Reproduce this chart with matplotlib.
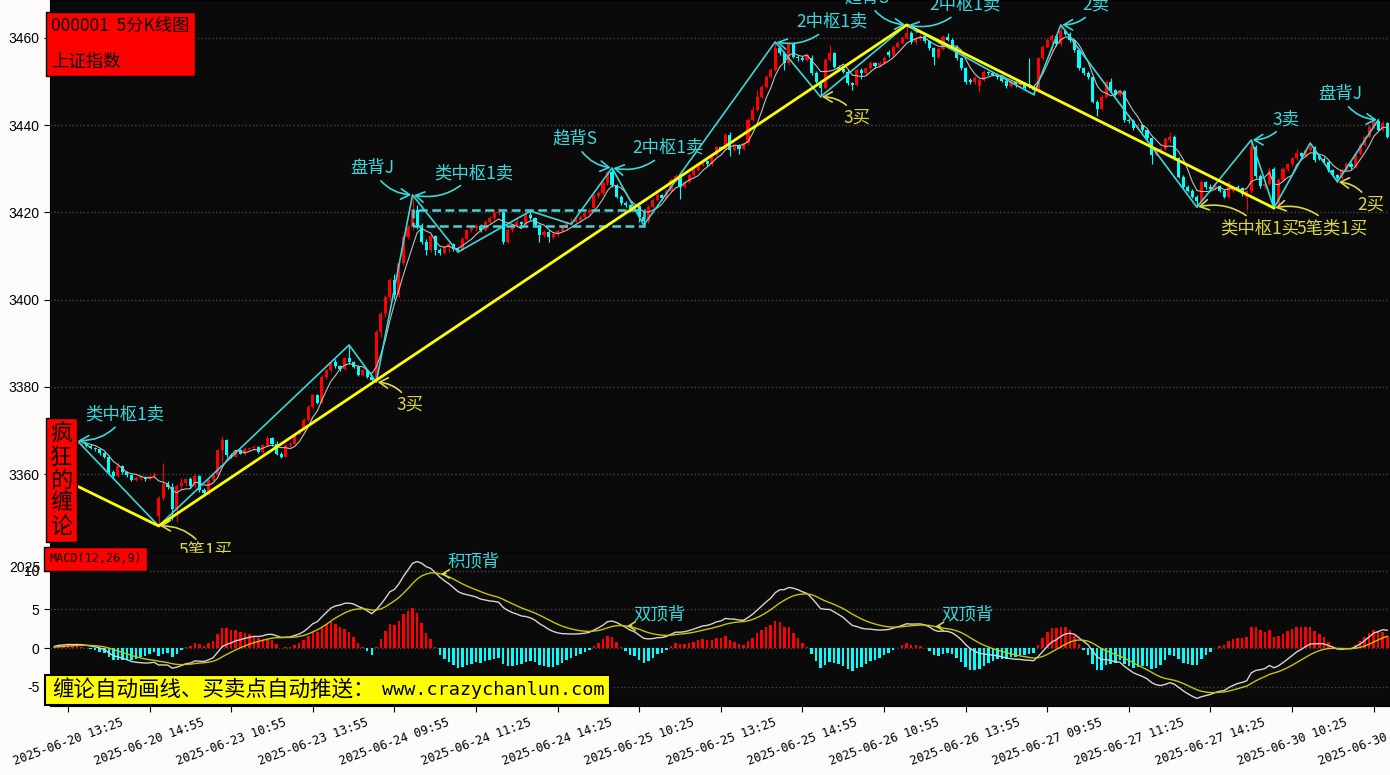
import numpy as np
import pandas as pd
import matplotlib
matplotlib.use('Agg')
import matplotlib.pyplot as plt
from matplotlib.patches import Rectangle

plt.rcParams['font.family'] = ['Noto Sans CJK SC', 'DejaVu Sans']
plt.rcParams['axes.unicode_minus'] = False

# ---- 5 min bars, 000001, from 2025-06-20 13:10 ----
opens = [
    3367.0, 3367.5, 3368.2, 3367.4, 3367.9, 3367.0, 3366.6, 3367.0, 3366.4, 3366.0,
    3365.7, 3364.8, 3364.0, 3360.5, 3359.6, 3361.8, 3360.4, 3359.8, 3358.6, 3359.2,
    3359.4, 3358.9, 3359.5, 3350.3, 3354.5, 3357.8, 3357.0, 3352.0, 3357.2, 3358.0,
    3358.8, 3357.2, 3359.5, 3356.3, 3355.6, 3358.6, 3359.8, 3365.5, 3367.8, 3364.4,
    3364.0, 3365.5, 3364.7, 3365.8, 3365.9, 3366.3, 3365.1, 3366.6, 3368.2, 3366.8,
    3364.7, 3364.0, 3366.6, 3367.0, 3369.3, 3370.1, 3372.4, 3375.4, 3378.1, 3376.4,
    3382.3, 3383.8, 3385.8, 3384.7, 3384.0, 3386.5, 3385.6, 3384.6, 3382.7, 3383.8,
    3382.3, 3381.8, 3392.5, 3396.8, 3400.6, 3404.5, 3401.0, 3408.3, 3414.4, 3416.7,
    3420.5, 3416.7, 3413.3, 3411.4, 3414.5, 3411.4, 3410.8, 3412.0, 3412.8, 3411.6,
    3411.4, 3414.0, 3415.9, 3416.4, 3416.8, 3416.0, 3417.9, 3418.6, 3419.8, 3420.1,
    3413.3, 3416.0, 3417.0, 3417.8, 3417.4, 3419.4, 3418.6, 3417.1, 3414.8, 3415.6,
    3414.4, 3415.0, 3415.8, 3416.6, 3417.6, 3417.8, 3418.2, 3419.0, 3419.8, 3421.0,
    3423.8, 3424.5, 3426.7, 3429.2, 3426.3, 3423.6, 3422.1, 3421.7, 3420.5, 3421.5,
    3419.0, 3418.0, 3421.3, 3422.8, 3424.0, 3423.3, 3425.0, 3427.4, 3428.3, 3425.9,
    3427.0, 3428.6, 3429.7, 3430.9, 3431.8, 3431.0, 3433.2, 3435.0, 3434.6, 3437.8,
    3434.3, 3435.3, 3434.6, 3435.8, 3441.2, 3443.5, 3446.5, 3448.8, 3451.1, 3452.7,
    3457.8, 3456.5, 3454.2, 3458.6, 3455.7, 3455.3, 3455.0, 3455.5, 3452.0, 3450.0,
    3448.5, 3455.0, 3456.5, 3453.4, 3452.8, 3452.3, 3449.6, 3449.2, 3452.7, 3451.9,
    3453.0, 3454.2, 3453.6, 3454.3, 3456.8, 3456.0, 3458.0, 3458.8, 3460.0, 3461.2,
    3459.0, 3460.0, 3460.5, 3459.2, 3457.6, 3455.7, 3457.5, 3460.2, 3459.6, 3458.0,
    3455.3, 3453.0, 3450.4, 3449.8, 3449.0, 3450.4, 3452.2, 3452.0, 3451.6, 3451.0,
    3450.2, 3449.0, 3449.8, 3449.2, 3449.6, 3449.5, 3448.8, 3448.0, 3455.3, 3458.0,
    3459.5, 3460.5, 3458.5, 3461.5, 3461.0, 3459.5, 3457.2, 3453.0, 3452.0, 3451.0,
    3445.4, 3443.8, 3446.5, 3450.0, 3448.0, 3447.0, 3447.8, 3441.2, 3441.0, 3439.3,
    3440.0, 3438.9, 3437.0, 3433.2, 3434.0, 3434.5, 3436.5, 3437.4, 3432.4, 3428.2,
    3425.9, 3425.0, 3423.6, 3422.5, 3427.0, 3425.8, 3425.4, 3426.0, 3425.0, 3423.6,
    3425.0, 3425.9, 3425.5, 3423.5, 3424.8, 3435.0, 3428.3, 3426.0, 3426.6, 3430.0,
    3422.0, 3427.5, 3429.9, 3431.0, 3432.4, 3433.6, 3433.0, 3434.3, 3435.0, 3433.0,
    3432.3, 3431.5, 3429.7, 3428.6, 3428.0, 3429.7, 3431.2, 3430.4, 3433.5, 3435.5,
    3437.4, 3439.6, 3441.0, 3439.0, 3440.5,
]
highs = [
    3368.0, 3368.6, 3368.4, 3368.3, 3368.1, 3367.7, 3367.1, 3367.2, 3366.8, 3366.3,
    3366.0, 3365.1, 3364.3, 3361.0, 3362.7, 3362.0, 3360.8, 3360.0, 3359.6, 3359.8,
    3359.6, 3359.8, 3360.4, 3355.0, 3362.5, 3358.5, 3358.0, 3357.8, 3359.0, 3359.2,
    3359.3, 3359.9, 3359.7, 3356.8, 3358.9, 3360.1, 3365.8, 3368.8, 3368.1, 3364.9,
    3365.8, 3365.7, 3366.2, 3366.3, 3366.6, 3366.5, 3366.9, 3368.8, 3368.5, 3367.6,
    3365.0, 3366.9, 3367.3, 3369.5, 3370.4, 3372.8, 3375.8, 3378.4, 3378.3, 3382.6,
    3384.2, 3386.0, 3386.3, 3385.0, 3386.8, 3389.6, 3386.0, 3384.9, 3384.1, 3384.0,
    3382.8, 3393.0, 3397.3, 3401.0, 3405.0, 3405.8, 3408.8, 3414.9, 3417.2, 3424.0,
    3421.8, 3417.5, 3413.8, 3415.0, 3414.8, 3411.8, 3412.4, 3413.2, 3413.0, 3412.0,
    3414.3, 3416.2, 3417.2, 3417.3, 3417.4, 3418.3, 3419.2, 3420.8, 3421.0, 3420.4,
    3416.4, 3417.4, 3418.6, 3418.1, 3419.8, 3420.3, 3418.9, 3417.4, 3416.0, 3415.9,
    3415.4, 3416.2, 3417.0, 3418.0, 3418.6, 3418.6, 3419.4, 3420.2, 3421.0, 3424.2,
    3425.0, 3427.2, 3429.6, 3430.2, 3426.6, 3424.0, 3422.6, 3422.0, 3421.9, 3421.8,
    3419.3, 3421.7, 3423.2, 3424.4, 3424.3, 3425.4, 3427.8, 3428.7, 3428.6, 3427.4,
    3429.0, 3430.1, 3431.3, 3432.2, 3432.1, 3433.6, 3435.4, 3435.3, 3438.2, 3438.5,
    3435.7, 3435.6, 3436.2, 3441.6, 3444.5, 3448.0, 3449.2, 3451.5, 3453.1, 3459.1,
    3458.2, 3456.9, 3459.0, 3458.9, 3456.2, 3455.8, 3456.4, 3456.0, 3452.4, 3450.3,
    3455.4, 3458.4, 3456.8, 3453.8, 3453.2, 3452.6, 3450.0, 3453.1, 3453.0, 3453.4,
    3454.6, 3454.5, 3454.7, 3455.8, 3457.2, 3458.4, 3459.2, 3460.4, 3463.0, 3461.6,
    3460.4, 3461.0, 3460.8, 3459.5, 3458.0, 3457.9, 3460.6, 3461.2, 3460.0, 3458.3,
    3455.6, 3453.3, 3450.8, 3451.2, 3450.8, 3452.6, 3452.5, 3452.3, 3451.9, 3451.3,
    3450.5, 3450.2, 3450.1, 3450.0, 3449.9, 3455.3, 3449.2, 3455.7, 3458.4, 3459.9,
    3460.9, 3460.8, 3463.0, 3462.0, 3461.3, 3459.8, 3457.5, 3453.4, 3452.4, 3451.3,
    3445.8, 3446.9, 3450.4, 3450.8, 3448.4, 3448.2, 3448.1, 3441.6, 3441.3, 3440.4,
    3440.3, 3439.2, 3437.3, 3434.4, 3434.9, 3437.3, 3438.5, 3437.7, 3432.7, 3428.5,
    3426.3, 3425.4, 3424.0, 3427.4, 3427.3, 3426.5, 3426.4, 3426.3, 3425.3, 3427.2,
    3426.3, 3426.2, 3425.8, 3425.2, 3436.6, 3435.4, 3428.7, 3427.0, 3430.2, 3430.3,
    3427.9, 3430.3, 3431.4, 3432.8, 3434.6, 3433.9, 3434.7, 3435.9, 3435.3, 3433.3,
    3432.6, 3431.8, 3430.0, 3428.9, 3430.1, 3431.6, 3431.5, 3433.9, 3435.9, 3437.8,
    3440.0, 3441.1, 3441.2, 3440.9, 3440.8,
]
lows = [
    3366.6, 3367.2, 3367.0, 3367.1, 3366.7, 3366.5, 3366.2, 3366.1, 3365.7, 3365.3,
    3364.4, 3363.6, 3360.1, 3358.8, 3359.3, 3360.1, 3359.4, 3358.3, 3358.4, 3358.7,
    3358.5, 3358.6, 3359.2, 3348.1, 3354.0, 3356.5, 3349.5, 3349.0, 3356.5, 3357.2,
    3356.8, 3357.0, 3356.0, 3355.1, 3355.3, 3358.3, 3359.5, 3362.5, 3364.0, 3363.6,
    3363.8, 3364.5, 3364.3, 3365.2, 3365.5, 3364.8, 3364.9, 3366.3, 3366.4, 3364.4,
    3363.7, 3363.8, 3366.3, 3366.8, 3369.0, 3369.9, 3372.1, 3375.1, 3376.0, 3376.2,
    3381.8, 3383.5, 3384.4, 3383.7, 3383.8, 3385.2, 3384.3, 3382.4, 3382.5, 3382.0,
    3381.3, 3381.1, 3391.5, 3396.0, 3399.8, 3400.2, 3400.5, 3408.0, 3413.8, 3416.0,
    3416.2, 3412.8, 3410.2, 3411.0, 3410.3, 3410.2, 3410.5, 3411.0, 3411.2, 3410.9,
    3411.2, 3413.6, 3415.4, 3415.8, 3415.6, 3415.7, 3417.4, 3418.2, 3419.4, 3412.8,
    3413.0, 3415.6, 3416.6, 3416.9, 3417.0, 3418.3, 3416.8, 3413.2, 3414.4, 3413.3,
    3413.9, 3414.7, 3415.5, 3416.3, 3417.3, 3417.5, 3417.9, 3418.7, 3419.5, 3420.6,
    3423.2, 3424.0, 3426.3, 3425.8, 3423.2, 3421.7, 3421.2, 3420.1, 3420.2, 3417.8,
    3417.1, 3417.6, 3421.0, 3422.5, 3422.9, 3423.0, 3424.7, 3427.0, 3423.0, 3425.5,
    3426.7, 3428.3, 3429.4, 3430.6, 3430.6, 3430.7, 3432.9, 3434.2, 3434.3, 3433.0,
    3434.0, 3433.5, 3434.3, 3435.5, 3440.9, 3443.2, 3446.2, 3448.5, 3450.8, 3452.4,
    3456.0, 3452.6, 3453.9, 3455.3, 3454.8, 3454.6, 3454.7, 3451.6, 3449.6, 3446.5,
    3448.2, 3454.7, 3453.0, 3452.4, 3451.9, 3449.2, 3448.0, 3448.9, 3450.5, 3451.6,
    3452.7, 3453.2, 3453.3, 3454.0, 3455.6, 3455.7, 3457.7, 3458.5, 3459.7, 3458.6,
    3458.7, 3459.6, 3458.8, 3457.2, 3453.8, 3455.4, 3457.2, 3459.2, 3457.6, 3454.9,
    3452.6, 3449.5, 3449.4, 3449.5, 3447.6, 3450.1, 3451.6, 3451.2, 3450.6, 3449.8,
    3448.6, 3448.7, 3448.8, 3448.9, 3448.1, 3448.5, 3447.0, 3447.7, 3455.0, 3457.7,
    3456.8, 3458.1, 3458.2, 3460.6, 3459.1, 3456.8, 3452.6, 3451.6, 3450.6, 3445.0,
    3442.0, 3443.5, 3446.2, 3447.6, 3446.6, 3446.7, 3440.8, 3440.4, 3438.9, 3439.0,
    3438.5, 3436.6, 3431.2, 3432.9, 3433.7, 3434.2, 3436.2, 3432.0, 3427.8, 3425.5,
    3424.6, 3423.2, 3421.2, 3422.2, 3425.4, 3425.0, 3425.1, 3424.6, 3423.2, 3423.3,
    3424.7, 3425.1, 3423.8, 3420.6, 3424.5, 3427.8, 3425.6, 3425.4, 3426.3, 3421.0,
    3421.7, 3427.2, 3429.6, 3430.7, 3432.1, 3432.6, 3432.7, 3434.0, 3431.6, 3431.9,
    3431.1, 3429.3, 3428.2, 3427.0, 3427.7, 3429.4, 3430.0, 3430.1, 3433.2, 3435.2,
    3437.1, 3439.3, 3438.6, 3438.7, 3437.0,
]
closes = [
    3367.5, 3368.2, 3367.4, 3367.9, 3367.0, 3367.6, 3367.0, 3366.4, 3366.0, 3365.7,
    3364.8, 3364.0, 3360.5, 3359.6, 3361.8, 3360.4, 3359.8, 3358.6, 3359.2, 3359.4,
    3358.9, 3359.5, 3359.9, 3354.5, 3357.8, 3357.0, 3352.0, 3357.2, 3358.0, 3358.8,
    3357.2, 3359.5, 3356.3, 3355.6, 3358.6, 3359.8, 3365.5, 3367.8, 3364.4, 3364.0,
    3365.5, 3364.7, 3365.8, 3365.9, 3366.3, 3365.1, 3366.6, 3368.2, 3366.8, 3364.7,
    3364.0, 3366.6, 3367.0, 3369.3, 3370.1, 3372.4, 3375.4, 3378.1, 3376.4, 3382.3,
    3383.8, 3385.8, 3384.7, 3384.0, 3386.5, 3385.6, 3384.6, 3382.7, 3383.8, 3382.3,
    3381.6, 3392.5, 3396.8, 3400.6, 3404.5, 3401.0, 3408.3, 3414.4, 3416.7, 3420.5,
    3416.7, 3413.3, 3411.4, 3414.5, 3411.4, 3410.8, 3412.0, 3412.8, 3411.6, 3411.4,
    3414.0, 3415.9, 3416.4, 3416.8, 3416.0, 3417.9, 3418.6, 3419.8, 3420.1, 3413.3,
    3416.0, 3417.0, 3417.8, 3417.4, 3419.4, 3418.6, 3417.1, 3414.8, 3415.6, 3414.4,
    3415.0, 3415.8, 3416.6, 3417.6, 3417.8, 3418.2, 3419.0, 3419.8, 3420.6, 3423.8,
    3424.5, 3426.7, 3429.2, 3426.3, 3423.6, 3422.1, 3421.7, 3420.5, 3421.5, 3419.0,
    3418.0, 3421.3, 3422.8, 3424.0, 3423.3, 3425.0, 3427.4, 3428.3, 3425.9, 3427.0,
    3428.6, 3429.7, 3430.9, 3431.8, 3431.0, 3433.2, 3435.0, 3434.6, 3437.8, 3434.3,
    3435.3, 3434.6, 3435.8, 3441.2, 3443.5, 3446.5, 3448.8, 3451.1, 3452.7, 3457.8,
    3456.5, 3454.2, 3458.6, 3455.7, 3455.3, 3455.0, 3456.0, 3452.0, 3450.0, 3448.5,
    3455.0, 3456.5, 3453.4, 3452.8, 3452.3, 3449.6, 3449.2, 3452.7, 3451.9, 3453.0,
    3454.2, 3453.6, 3454.3, 3455.4, 3456.0, 3458.0, 3458.8, 3460.0, 3461.2, 3459.0,
    3460.0, 3460.5, 3459.2, 3457.6, 3455.7, 3457.5, 3460.2, 3459.6, 3458.0, 3455.3,
    3453.0, 3450.0, 3449.8, 3450.8, 3450.4, 3452.2, 3452.0, 3451.6, 3451.0, 3450.2,
    3449.0, 3449.8, 3449.2, 3449.6, 3448.5, 3448.8, 3448.0, 3455.3, 3458.0, 3459.5,
    3460.5, 3458.5, 3461.5, 3461.0, 3459.5, 3457.2, 3453.0, 3452.0, 3451.0, 3445.4,
    3443.8, 3446.5, 3450.0, 3448.0, 3447.0, 3447.8, 3441.2, 3441.0, 3439.3, 3440.0,
    3438.9, 3437.0, 3433.2, 3434.0, 3434.5, 3436.9, 3437.4, 3432.4, 3428.2, 3425.9,
    3425.0, 3423.6, 3422.5, 3427.0, 3425.8, 3425.4, 3426.0, 3425.0, 3423.6, 3426.8,
    3425.9, 3425.5, 3424.2, 3424.8, 3435.0, 3428.3, 3426.0, 3426.6, 3429.8, 3421.8,
    3427.5, 3429.9, 3431.0, 3432.4, 3433.6, 3433.0, 3434.3, 3435.0, 3432.0, 3432.3,
    3431.5, 3429.7, 3428.6, 3428.0, 3429.7, 3431.2, 3430.4, 3433.5, 3435.5, 3437.4,
    3439.6, 3441.0, 3439.0, 3440.5, 3437.4,
]

days = ['2025-06-20', '2025-06-23', '2025-06-24', '2025-06-25',
        '2025-06-26', '2025-06-27', '2025-06-30']
first_bar = '2025-06-20 13:10'
tick_labels = ['2025-06-20 13:25', '2025-06-20 14:55', '2025-06-23 10:55', '2025-06-23 13:55',
               '2025-06-24 09:55', '2025-06-24 11:25', '2025-06-24 14:25', '2025-06-25 10:25',
               '2025-06-25 13:25', '2025-06-25 14:55', '2025-06-26 10:55', '2025-06-26 13:55',
               '2025-06-27 09:55', '2025-06-27 11:25', '2025-06-27 14:25', '2025-06-30 10:25',
               '2025-06-30 13:25']

# chan: strokes (bi) start with a top, segments, one hub
stroke_idx = [5, 23, 65, 71, 79, 89, 105, 114, 123, 130, 159, 169,
              188, 216, 222, 252, 264, 269, 277, 283, 292]
seg_idx = [0, 23, 188, 269]
seg_price = [3359.8, 3348.1, 3463.0, 3421.0]
hub_start, hub_end = 79, 130
hub_low, hub_high = 3416.9, 3420.6

# buy / sell points: label, stroke vertex
sig_text = ['类中枢1卖', '5笔1买', '3买', '盘背J', '类中枢1卖', '趋背S', '2中枢1卖',
            '2中枢1卖', '3买', '趋背S', '2中枢1卖', '2卖', '3卖', '盘背J',
            '类中枢1买', '5笔类1买', '2买']
sig_vertex = [0, 1, 3, 4, 4, 8, 8, 10, 11, 12, 12, 14, 16, 20, 15, 17, 19]
sig_offset = [(48, 26), (47, -26), (34, -23), (-40, 27), (61, 22), (-37, 29), (56, 20),
              (57, 20), (36, -21), (-40, 27), (58, 20), (35, 20), (35, 21), (-38, 26),
              (63, -21), (58, -20), (33, -23)]

macd_text = ['积顶背', '双顶背', '双顶背']
macd_idx = [85, 126, 194]

# MACD state at the first bar
ema12_0, ema26_0, dea_0 = 3366.0, 3365.9, 0.1
HIST_SCALE = 2.0

RED = '#ff0000'
CYAN = '#00ffff'
STROKE = '#3cd6d6'
SELL = '#3ad8dc'
BUY = '#dcd548'
BG = '#0a0a0a'
W, H = 1390, 775

# ---- derived series ----
o = np.array(opens); h = np.array(highs); l = np.array(lows); c = np.array(closes)
n = len(c)
x = np.arange(n)


def session_times():
    out = []
    for start in ('09:30', '13:00'):
        t0 = pd.Timestamp('2000-01-01 ' + start)
        out += [(t0 + pd.Timedelta(minutes=5 * (k + 1))).strftime('%H:%M') for k in range(24)]
    return out


stamps = [f'{d} {t}' for d in days for t in session_times()]
k0 = stamps.index(first_bar)
stamps = stamps[k0:k0 + n]
tick_pos = [stamps.index(s) for s in tick_labels]

ma5 = pd.Series(c).rolling(5, min_periods=1).mean()

dif = np.empty(n); dea = np.empty(n)
e12, e26, d = ema12_0, ema26_0, dea_0
for k in range(n):
    e12 = (2 * c[k] + 11 * e12) / 13
    e26 = (2 * c[k] + 25 * e26) / 27
    dif[k] = e12 - e26
    d = (2 * dif[k] + 8 * d) / 10
    dea[k] = d
hist = HIST_SCALE * (dif - dea)

stroke_price = [h[i] if j % 2 == 0 else l[i] for j, i in enumerate(stroke_idx)]

# ---- figure ----
fig = plt.figure(figsize=(W / 100, H / 100), dpi=100, facecolor='#fdfafa')
ax = fig.add_axes([50 / W, 1 - 553 / H, 1340 / W, 553 / H])
ax2 = fig.add_axes([50 / W, 1 - 706 / H, 1340 / W, 153 / H], sharex=ax)

for a in (ax, ax2):
    a.set_facecolor(BG)
    for s in a.spines.values():
        s.set_color('black')
    a.grid(axis='y', color='#474747', ls=':', lw=1.0)
    a.set_axisbelow(True)
    a.tick_params(axis='y', length=4, colors='black', labelsize=10)

# candles
up = c >= o
col = np.where(up, RED, CYAN)
ax.vlines(x, l, h, colors=col, lw=0.8, zorder=2)
body = np.maximum(np.abs(c - o), 0.12)
ax.bar(x, body, bottom=np.minimum(o, c), width=0.68, color=col, lw=0, zorder=3)
ax.plot(x, ma5, color='#bdbdbd', lw=0.8, zorder=4)

# strokes, segments, hub
ax.plot(stroke_idx, stroke_price, color=STROKE, lw=1.2, zorder=5)
ax.plot(seg_idx, seg_price, color='#ffff00', lw=2.0, zorder=6)
ax.add_patch(Rectangle((hub_start, hub_low), hub_end - hub_start, hub_high - hub_low,
                       fill=False, ec=STROKE, lw=1.8, ls=(0, (3.5, 1.8)), zorder=5))

for text, v, (dx, dy) in zip(sig_text, sig_vertex, sig_offset):
    colr = BUY if '买' in text else SELL
    rad = 0.3 if (dx < 0 or dy < 0) else -0.3
    ax.annotate(text, xy=(stroke_idx[v], stroke_price[v]), xytext=(dx, dy),
                textcoords='offset pixels', ha='center', va='center', color=colr,
                fontsize=12.5, annotation_clip=False, zorder=8,
                arrowprops=dict(arrowstyle='->,head_length=0.5,head_width=0.3', color=colr,
                                lw=1.2, shrinkA=1, shrinkB=1,
                                connectionstyle=f'arc3,rad={rad}'))

ax.set_xlim(-0.97, 294.6)
ax.set_ylim(3341.9, 3468.7)
ax.set_yticks([3360, 3380, 3400, 3420, 3440, 3460])
ax.tick_params(axis='x', bottom=False, labelbottom=False)

# MACD panel
ax2.bar(x, hist, width=0.55, color=np.where(hist >= 0, RED, CYAN), lw=0, zorder=2)
ax2.plot(x, dif, color='#d4d4d4', lw=1.0, zorder=3)
ax2.plot(x, dea, color='#c8c400', lw=1.0, zorder=3)
for text, i in zip(macd_text, macd_idx):
    ax2.annotate(text, xy=(i, dea[i]), xytext=(34, 12), textcoords='offset pixels',
                 ha='center', va='center', color=SELL, fontsize=12.5, zorder=8,
                 arrowprops=dict(arrowstyle='->,head_length=0.4,head_width=0.25',
                                 color='#e0d840', lw=1.1, shrinkA=1, shrinkB=1,
                                 connectionstyle='arc3,rad=-0.2'))
ax2.set_ylim(-7.5, 12.3)
ax2.set_yticks([-5, 0, 5, 10])
ax2.set_xticks(tick_pos)
ax2.set_xticklabels(tick_labels, rotation=20, ha='center', family='DejaVu Sans Mono',
                    fontsize=8.7)
ax2.tick_params(axis='x', length=4, colors='black')
for a in (ax, ax2):
    for t in a.get_yticklabels():
        t.set_family('Liberation Sans')

# ---- boxes ----
fig.text(51 / W, 1 - 44 / H, '000001  5分K线图\n上证指数', ha='left', va='center',
         fontsize=12.5, linespacing=2.3, color='black',
         bbox=dict(boxstyle='square,pad=0.3', fc='#ff0000', ec='black', lw=1))
fig.text(61.5 / W, 1 - 480 / H, '\n'.join('疯狂的缠论'), ha='center', va='center',
         fontsize=16, linespacing=1.0, color='black',
         bbox=dict(boxstyle='square,pad=0.2', fc='#ff0000', ec='black', lw=1))
fig.text(49 / W, 1 - 559 / H, 'MACD(12,26,9)', ha='left', va='center',
         family='DejaVu Sans Mono', fontsize=8.6, color='black',
         bbox=dict(boxstyle='square,pad=0.45', fc='#ff0000', ec='black', lw=1))
fig.patches.append(Rectangle((45 / W, 1 - 705 / H), 565 / W, 30 / H, transform=fig.transFigure,
                             fc='#ffff00', ec='black', lw=1.5, zorder=10))
fig.text(52 / W, 1 - 690 / H, '缠论自动画线、买卖点自动推送：', ha='left', va='center',
         fontsize=15.5, color='black', zorder=11)
fig.text(605 / W, 1 - 690 / H, 'www.crazychanlun.com', ha='right', va='center',
         family='DejaVu Sans Mono', fontsize=13.3, color='black', zorder=11)
fig.text(40 / W, 1 - 568 / H, '2025', ha='right', va='center', family='Liberation Sans',
         fontsize=10, color='black')

fig.savefig('out.png', dpi=100, facecolor=fig.get_facecolor())
